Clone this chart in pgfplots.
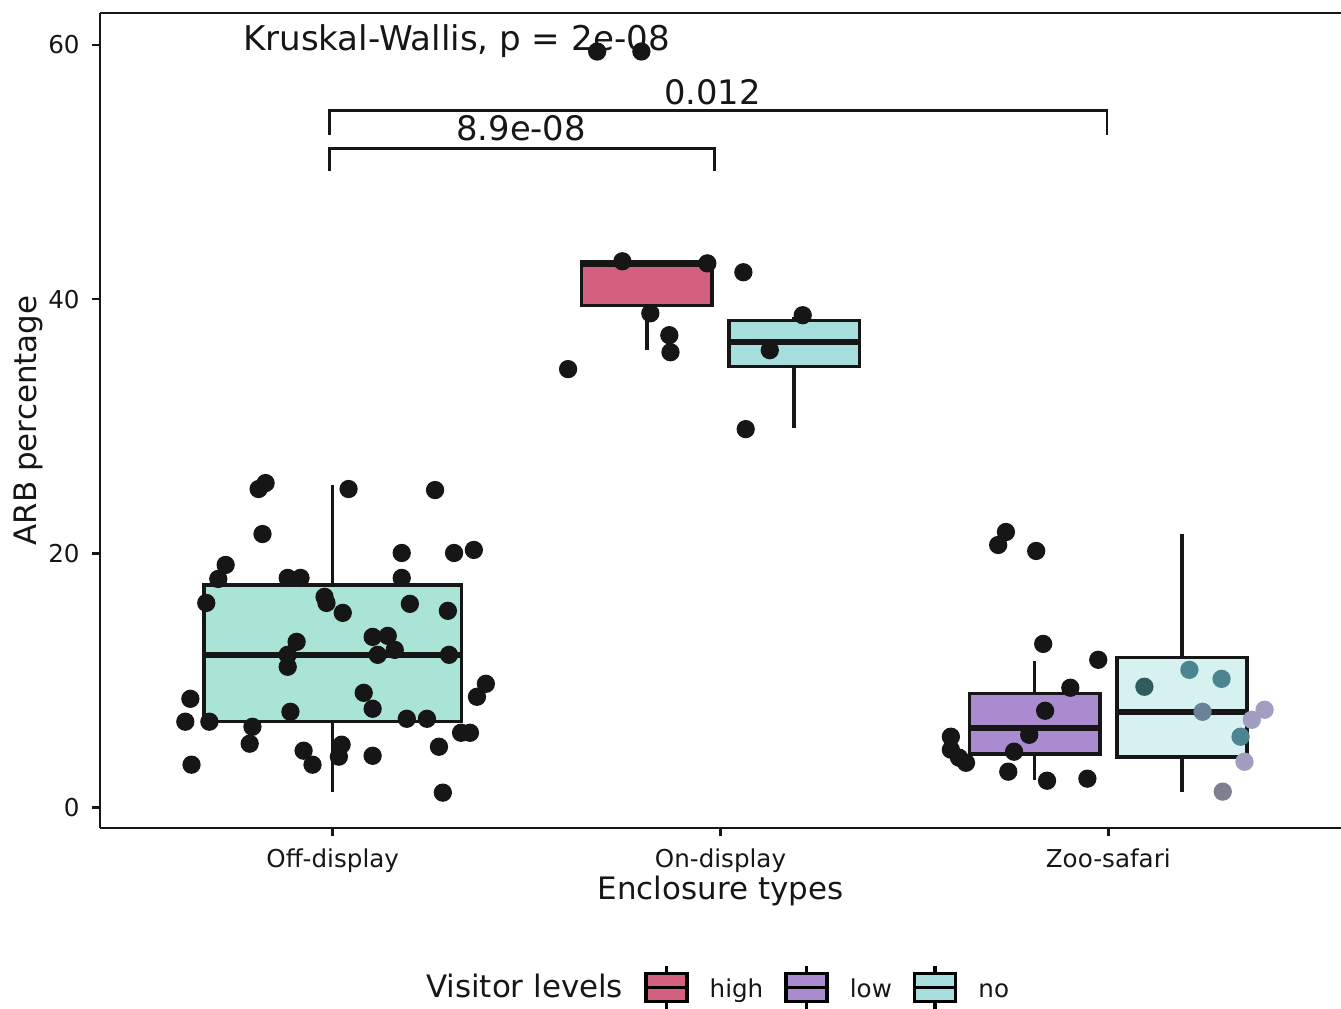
\documentclass[border=0pt]{standalone}
\usepackage{fontspec}
\setmainfont{DejaVu Sans}
\usepackage{pgfplots}
\pgfplotsset{compat=1.18}
\usepgfplotslibrary{statistics}
\usetikzlibrary{calc}

\definecolor{highfill}{HTML}{D3607F}
\definecolor{lowfill}{HTML}{AB8BD0}
\definecolor{nofillA}{HTML}{A9E4D6}
\definecolor{nofillB}{HTML}{A6DEDE}
\definecolor{nofillC}{HTML}{D6F1F0}
\definecolor{ink}{HTML}{161616}
\definecolor{ptA}{HTML}{2F5D5E}
\definecolor{ptB}{HTML}{4A8590}
\definecolor{ptC}{HTML}{6A8296}
\definecolor{ptD}{HTML}{A29EC2}
\definecolor{ptE}{HTML}{7F7F90}

\pgfplotsset{
  boxleg/.style={legend image code/.code={
    \draw[line width=1pt, fill=#1] (0cm,-0.14cm) rectangle (0.41cm,0.14cm);
    \draw[line width=1pt] (0cm,0cm) -- (0.41cm,0cm);
    \draw[line width=1pt] (0.205cm,0.14cm) -- (0.205cm,0.22cm);
    \draw[line width=1pt] (0.205cm,-0.14cm) -- (0.205cm,-0.22cm);
  }},
  gbox/.style={
    boxplot prepared={#1},
    boxplot/draw direction=y,
    draw=ink, line width=1pt, solid, mark=none, forget plot,
    boxplot/whisker extend=0,
    boxplot/every median/.style={line width=1.8pt},
  },
  dots/.style={only marks, mark=*, mark size=2.4pt, forget plot},
}

\begin{document}
\begin{tikzpicture}
\begin{axis}[
  scale only axis,
  width=12.41cm, height=8.15cm,
  xmin=0.4, xmax=3.6, ymin=-1.6, ymax=62.5,
  axis x line*=bottom, axis y line*=left,
  axis line style={line width=0.7pt, ink},
  clip=false,
  tick align=outside,
  major tick length=0.08cm,
  tick style={line width=0.7pt, ink},
  xtick={1,2,3},
  xticklabels={Off-display,On-display,Zoo-safari},
  ytick={0,20,40,60},
  /pgf/number format/assume math mode=true,
  ticklabel style={font=\fontsize{7}{8}\selectfont, text=ink},
  xlabel={Enclosure types},
  ylabel={ARB percentage},
  label style={font=\fontsize{8.8}{10}\selectfont, text=ink},
  xlabel style={at={(axis description cs:0.5,-0.0773)}, anchor=center},
  ylabel style={at={(axis description cs:-0.058,0.5)}, anchor=center},
  legend style={at={(axis description cs:0.492,-0.196)}, anchor=center,
    draw=none, fill=none, legend columns=-1,
    font=\fontsize{7}{8}\selectfont, text=ink,
    nodes={text height=1.45ex, text depth=0.45ex},
    /tikz/every odd column/.append style={column sep=0.14cm},
    /tikz/every even column/.append style={column sep=0.14cm}},
]

% box summaries per enclosure type and visitor level
\addplot+[gbox={lower whisker=1.26, lower quartile=6.76, median=12.0,
  upper quartile=17.5, upper whisker=25.4, draw position=1, box extend=0.664},
  fill=nofillA] coordinates {};
\addplot+[gbox={lower whisker=36.0, lower quartile=39.5, median=42.8,
  upper quartile=42.9, upper whisker=42.9, draw position=1.81, box extend=0.336},
  fill=highfill] coordinates {};
\addplot+[gbox={lower whisker=29.85, lower quartile=34.7, median=36.6,
  upper quartile=38.3, upper whisker=38.6, draw position=2.19, box extend=0.336},
  fill=nofillB] coordinates {};
\addplot+[gbox={lower whisker=2.2, lower quartile=4.24, median=6.28,
  upper quartile=8.96, upper whisker=11.5, draw position=2.81, box extend=0.336},
  fill=lowfill] coordinates {};
\addplot+[gbox={lower whisker=1.26, lower quartile=4.0, median=7.54,
  upper quartile=11.8, upper whisker=21.5, draw position=3.19, box extend=0.336},
  fill=nofillC] coordinates {};

% overall test and pairwise comparisons
\node[anchor=west, inner sep=0pt, font=\fontsize{9.7}{11}\selectfont, text=ink]
  at (axis cs:0.767,60.3) {Kruskal-Wallis, p = 2e-08};
\draw[line width=0.7pt, ink] (axis cs:0.992,50.1) -- (axis cs:0.992,51.85)
  -- (axis cs:1.985,51.85) -- (axis cs:1.985,50.1);
\node[font=\fontsize{9.6}{11}\selectfont, text=ink] at (axis cs:1.486,53.4) {8.9e-08};
\draw[line width=0.7pt, ink] (axis cs:0.992,52.87) -- (axis cs:0.992,54.83)
  -- (axis cs:2.997,54.83) -- (axis cs:2.997,52.87);
\node[font=\fontsize{9.6}{11}\selectfont, text=ink] at (axis cs:1.979,56.3) {0.012};

% jittered observations: off-display
\addplot[dots, ink] coordinates {
(0.809,25.06) (0.827,25.53) (1.041,25.06) (1.264,24.98) (0.819,21.52)
(1.178,20.03) (1.313,20.03) (1.364,20.27) (0.724,19.09) (0.705,17.99)
(0.884,18.07) (0.917,18.07) (1.178,18.07) (0.979,16.58) (0.984,16.10)
(0.674,16.10) (1.026,15.32) (1.199,16.03) (1.297,15.48) (0.907,13.04)
(1.103,13.43) (1.142,13.51) (1.160,12.41) (0.884,12.02) (0.884,11.08)
(1.116,12.02) (1.300,12.02) (1.080,9.03) (1.103,7.78) (1.395,9.74)
(1.372,8.72) (0.633,8.56) (0.620,6.76) (0.682,6.76) (0.793,6.36)
(0.891,7.54) (1.191,6.99) (1.243,6.99) (1.331,5.89) (1.354,5.89)
(0.786,5.03) (0.925,4.48) (0.948,3.38) (1.023,4.95) (1.016,4.01)
(1.103,4.08) (1.274,4.79) (0.636,3.38) (1.284,1.18)
};
% on-display
\addplot[dots, ink] coordinates {
(1.747,42.97) (1.966,42.81) (2.059,42.11) (1.819,38.88) (1.868,37.16)
(1.871,35.82) (1.607,34.49) (2.212,38.73) (2.127,35.98) (2.065,29.77)
(1.682,59.47) (1.796,59.47)
};
% zoo-safari, low
\addplot[dots, ink] coordinates {
(2.736,21.68) (2.716,20.66) (2.814,20.19) (2.832,12.88) (2.974,11.63)
(2.902,9.43) (2.837,7.62) (2.796,5.73) (2.757,4.40) (2.594,5.58)
(2.594,4.56) (2.615,3.93) (2.633,3.53) (2.742,2.83) (2.842,2.12) (2.946,2.28)
};
% zoo-safari, no
\addplot[dots, ptA] coordinates {(3.093,9.51)};
\addplot[dots, ptB] coordinates {(3.209,10.84) (3.292,10.13) (3.341,5.58)};
\addplot[dots, ptC] coordinates {(3.243,7.54)};
\addplot[dots, ptD] coordinates {(3.403,7.70) (3.370,6.91) (3.351,3.61)};
\addplot[dots, ptE] coordinates {(3.295,1.26)};

\draw[line width=0.7pt, ink] (rel axis cs:0,1) -- (rel axis cs:1,1);

\addlegendimage{empty legend}
\addlegendentry{\fontsize{8.8}{10}\selectfont Visitor levels}
\addlegendimage{boxleg=highfill}
\addlegendentry{high}
\addlegendimage{boxleg=lowfill}
\addlegendentry{low}
\addlegendimage{boxleg=nofillB}
\addlegendentry{no}

\coordinate (ll) at (rel axis cs:0,0);
\coordinate (ur) at (rel axis cs:1,1);
\end{axis}
\pgfresetboundingbox
\path ($(ll)+(-1.0cm,-1.81cm)$) rectangle ($(ur)+(0,0.13cm)$);
\end{tikzpicture}
\end{document}
